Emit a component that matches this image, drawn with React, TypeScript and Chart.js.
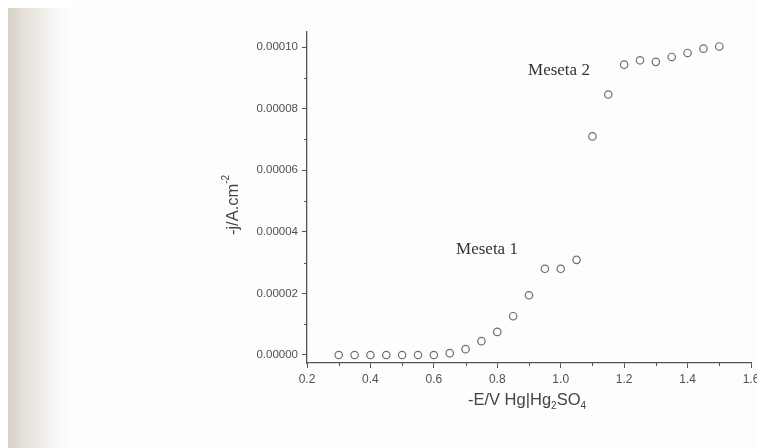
import React, { useEffect, useRef } from "react";
import { Chart, registerables } from "chart.js";

Chart.register(...registerables);

// ---- data ----
const potentialV = [0.3, 0.35, 0.4, 0.45, 0.5, 0.55, 0.6, 0.65, 0.7, 0.75, 0.8, 0.85, 0.9, 0.95, 1.0, 1.05, 1.1, 1.15, 1.2, 1.25, 1.3, 1.35, 1.4, 1.45, 1.5];
const currentDensity = [0, 0, 0, 0, 0, 0, 0, 0.0000006, 0.0000019, 0.0000045, 0.0000075, 0.0000126, 0.0000194, 0.000028, 0.000028, 0.0000309, 0.000071, 0.0000846, 0.0000943, 0.0000957, 0.0000952, 0.0000968, 0.0000981, 0.0000995, 0.0001002];

const xTicks = [0.2, 0.4, 0.6, 0.8, 1.0, 1.2, 1.4, 1.6];
const xMinorTicks = [0.3, 0.5, 0.7, 0.9, 1.1, 1.3, 1.5];
const yTicks = [0, 0.00002, 0.00004, 0.00006, 0.00008, 0.0001];
const yMinorTicks = [0.00001, 0.00003, 0.00005, 0.00007, 0.00009];
const yTickLabels = ["0.00000", "0.00002", "0.00004", "0.00006", "0.00008", "0.00010"];

const annotationTexts = ["Meseta 1", "Meseta 2"];
const annotationX = [0.67, 0.897];
const annotationY = [0.0000328, 0.0000909];

const SANS = "'Liberation Sans', Arial, sans-serif";
const SERIF = "'Liberation Serif', 'Times New Roman', serif";

const decorPlugin = {
  id: "decor",
  beforeDraw(chart: any) {
    const ctx = chart.ctx;
    const w = chart.width, h = chart.height;
    ctx.save();
    ctx.fillStyle = "#fcfdfd";
    ctx.fillRect(0, 0, w, h);
    const g = ctx.createLinearGradient(8, 0, 72, 0);
    g.addColorStop(0, "#d8d1c7");
    g.addColorStop(0.25, "#e4dfd8");
    g.addColorStop(0.55, "#f1eeea");
    g.addColorStop(0.8, "#f9f9f8");
    g.addColorStop(1, "#fcfdfd");
    ctx.fillStyle = g;
    ctx.fillRect(8, 8, 64, h - 8);
    ctx.fillStyle = "#ffffff";
    ctx.fillRect(0, 0, 8, h);
    ctx.fillRect(0, 0, 72, 8);
    ctx.restore();
  },
  afterDraw(chart: any) {
    const ctx = chart.ctx;
    const xs = chart.scales.x, ys = chart.scales.y;
    const area = chart.chartArea;
    ctx.save();
    ctx.strokeStyle = "#555";
    ctx.lineWidth = 1;
    xMinorTicks.forEach((v) => {
      const px = Math.round(xs.getPixelForValue(v)) + 0.5;
      ctx.beginPath();
      ctx.moveTo(px, area.bottom);
      ctx.lineTo(px, area.bottom + 3);
      ctx.stroke();
    });
    yMinorTicks.forEach((v) => {
      const py = Math.round(ys.getPixelForValue(v)) + 0.5;
      ctx.beginPath();
      ctx.moveTo(area.left - 3, py);
      ctx.lineTo(area.left, py);
      ctx.stroke();
    });

    // x title with subscripts
    ctx.fillStyle = "#444";
    ctx.textBaseline = "alphabetic";
    ctx.textAlign = "left";
    const big = "16.5px " + SANS;
    const small = "10px " + SANS;
    const parts: [string, boolean][] = [["-E/V Hg|Hg", false], ["2", true], ["SO", false], ["4", true]];
    let total = 0;
    parts.forEach(([t, s]) => { ctx.font = s ? small : big; total += ctx.measureText(t).width; });
    let x = (area.left + area.right) / 2 - total / 2 - 2;
    const base = 405;
    parts.forEach(([t, s]) => {
      ctx.font = s ? small : big;
      ctx.fillText(t, x, s ? base + 4 : base);
      x += ctx.measureText(t).width;
    });

    // y title with superscript
    ctx.save();
    ctx.translate(238, 205);
    ctx.rotate(-Math.PI / 2);
    const yparts: [string, boolean][] = [["-j/A.cm", false], ["-2", true]];
    let ytot = 0;
    yparts.forEach(([t, s]) => { ctx.font = s ? small : big; ytot += ctx.measureText(t).width; });
    let yx = -ytot / 2;
    yparts.forEach(([t, s]) => {
      ctx.font = s ? small : big;
      ctx.fillText(t, yx, s ? -9 : 0);
      yx += ctx.measureText(t).width;
    });
    ctx.restore();

    // annotations
    ctx.fillStyle = "#333";
    ctx.font = "17px " + SERIF;
    annotationTexts.forEach((t, i) => {
      ctx.fillText(t, xs.getPixelForValue(annotationX[i]), ys.getPixelForValue(annotationY[i]));
    });
    ctx.restore();
  },
};

export default function App() {
  const ref = useRef<HTMLCanvasElement | null>(null);
  useEffect(() => {
    if (!ref.current) return;
    const chart = new Chart(ref.current, {
      type: "scatter",
      data: {
        datasets: [
          {
            data: potentialV.map((v, i) => ({ x: v, y: currentDensity[i] })),
            pointStyle: "circle",
            pointRadius: 3.7,
            borderColor: "#6e6e6e",
            borderWidth: 1.2,
            backgroundColor: "rgba(0,0,0,0)",
            showLine: false,
          },
        ],
      },
      options: {
        responsive: false,
        animation: false,
        events: [],
        layout: { padding: { top: 32, right: 24, left: 0, bottom: 0 } },
        plugins: { legend: { display: false }, tooltip: { enabled: false }, title: { display: false } },
        scales: {
          x: {
            type: "linear",
            min: 0.2,
            max: 1.6,
            afterBuildTicks: (s: any) => { s.ticks = xTicks.map((v) => ({ value: v })); },
            afterFit: (s: any) => { s.height = 85; },
            grid: { display: true, drawOnChartArea: false, drawTicks: true, tickLength: 5, tickColor: "#555", lineWidth: 1 },
            border: { display: true, color: "#555", width: 1.3 },
            ticks: {
              autoSkip: false,
              maxRotation: 0,
              padding: 4,
              color: "#505050",
              font: { family: SANS, size: 12 },
              callback: (v: any) => Number(v).toFixed(1),
            },
          },
          y: {
            type: "linear",
            min: -0.0000026,
            max: 0.0001049,
            afterBuildTicks: (s: any) => { s.ticks = yTicks.map((v) => ({ value: v })); },
            afterFit: (s: any) => { s.width = 307; },
            grid: { display: true, drawOnChartArea: false, drawTicks: true, tickLength: 5, tickColor: "#555", lineWidth: 1 },
            border: { display: true, color: "#555", width: 1.3 },
            ticks: {
              autoSkip: false,
              padding: 4,
              color: "#505050",
              font: { family: SANS, size: 11.5 },
              callback: (v: any) => {
                const i = yTicks.findIndex((t) => Math.abs(t - Number(v)) < 1e-9);
                return i >= 0 ? yTickLabels[i] : "";
              },
            },
          },
        },
      },
      plugins: [decorPlugin],
    } as any);
    return () => chart.destroy();
  }, []);
  return (
    <div style={{ position: "fixed", left: 0, top: 0, width: 757, height: 448, overflow: "hidden", background: "#fcfdfd" }}>
      <canvas ref={ref} width={775} height={448} style={{ display: "block", width: 775, height: 448 }} />
    </div>
  );
}
